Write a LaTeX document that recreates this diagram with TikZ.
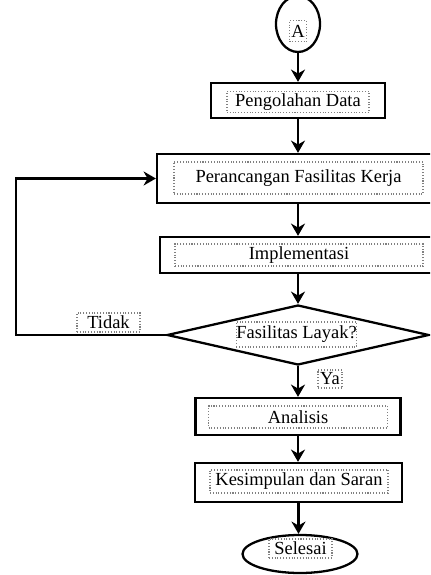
\documentclass[tikz,border=0pt]{standalone}
\usepackage{fontspec}
\setmainfont{Liberation Serif}
\usetikzlibrary{shapes.geometric,arrows.meta}

\begin{document}
\begin{tikzpicture}[
	kotak/.style={draw=black, line width=1.3pt, inner sep=0pt},
	teks/.style={draw=gray, densely dotted, line width=0.6pt, inner sep=0pt, font=\fontsize{10.5pt}{12pt}\selectfont},
	panah/.style={-{Stealth[length=7pt,width=8pt]}, black, line width=1.2pt}
	]
					\clip(0,0)rectangle(8.6,-11.5);

					\node[kotak, ellipse, minimum width=0.88cm, minimum height=1.12cm](A) at (5.96,-0.48){};
					\node[teks, minimum width=0.34cm, minimum height=0.42cm] at (5.96,-0.62){A};

					\node[kotak, minimum width=3.48cm, minimum height=0.7cm](pd) at (5.96,-2.01){};
					\node[teks, minimum width=2.84cm, minimum height=0.42cm](tpd) at (5.96,-2.04){Pengolahan Data};

					\node[kotak, minimum width=5.64cm, minimum height=0.98cm](pf) at (5.96,-3.57){};
					\node[teks, minimum width=4.98cm, minimum height=0.64cm](tpf) at (5.97,-3.56){Perancangan Fasilitas Kerja};

					\node[kotak, minimum width=5.52cm, minimum height=0.72cm](im) at (5.96,-5.1){};
					\node[teks, minimum width=4.96cm, minimum height=0.44cm](tim) at (5.98,-5.1){Implementasi};

					\node[kotak, diamond, aspect=4.4, minimum width=5.24cm, minimum height=1.2cm](kl) at (5.96,-6.7){};
					\node[teks, minimum width=2.34cm, minimum height=0.5cm](tkl) at (5.93,-6.69){Fasilitas Layak?};

					\node[teks, minimum width=1.26cm, minimum height=0.38cm](tidak) at (2.17,-6.45){Tidak};
					\node[teks, minimum width=0.48cm, minimum height=0.36cm](ya) at (6.6,-7.58){Ya};

					\node[kotak, minimum width=4.1cm, minimum height=0.74cm](an) at (5.96,-8.33){};
					\node[teks, minimum width=3.58cm, minimum height=0.44cm](tan) at (5.96,-8.34){Analisis};

					\node[kotak, minimum width=4.14cm, minimum height=0.78cm](ks) at (5.97,-9.65){};
					\node[teks, minimum width=3.56cm, minimum height=0.46cm](tks) at (5.98,-9.63){Kesimpulan dan Saran};

					\node[kotak, ellipse, minimum width=2.3cm, minimum height=0.76cm](sl) at (6.0,-11.08){};
					\node[teks, minimum width=1.26cm, minimum height=0.38cm](tsl) at (6.01,-10.97){Selesai};

					\draw[panah](A.south)--(pd.north);
					\draw[panah](pd.south)--(pf.north);
					\draw[panah](pf.south)--(im.north);
					\draw[panah](im.south)--(kl.north);
					\draw[panah](kl.south)--(an.north);
					\draw[panah](an.south)--(an.south|-ks.north);
					\draw[panah](ks.south)--(ks.south|-sl.north);
					\draw[panah](kl.west)--++(-3.0,0)|-(pf.west);
				\end{tikzpicture}
\end{document}
